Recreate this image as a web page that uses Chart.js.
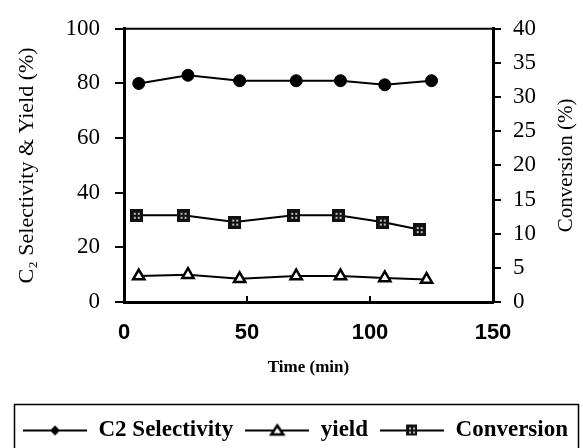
<!DOCTYPE html>
<html lang="en">
<head>
  <meta charset="UTF-8">
  <title>C2 Selectivity, Yield and Conversion vs Time</title>
  <script src="https://cdn.jsdelivr.net/npm/chart.js"></script>
  <style>
    html, body { margin: 0; padding: 0; background: #fff; }
    #wrap { width: 583px; height: 448px; }
  </style>
</head>
<body>
  <div id="wrap"><canvas id="chart" width="583" height="448"></canvas></div>

  <script>
    // values
    const selTime = [6, 26, 47, 70, 88, 106, 125];
    const selectivity = [80, 83, 81, 81, 81, 79.5, 81];
    const yieldTime = [6, 26, 47, 70, 88, 106, 123];
    const yieldPct = [9.5, 10, 8.5, 9.5, 9.5, 8.8, 8.2];
    const convTime = [5, 24, 45, 69, 87, 105, 120];
    const conversion = [12.7, 12.7, 11.7, 12.7, 12.7, 11.7, 10.6];
    const seriesNames = ['C2 Selectivity', 'yield', 'Conversion'];
    const rightTitle = 'Conversion (%)';

    const serif = "'Liberation Serif', 'Times New Roman', serif";
    const sans = "'Liberation Sans', Arial, sans-serif";

    // speckled square used for the conversion markers
    function squareMark(size) {
      const c = document.createElement('canvas');
      c.width = size; c.height = size;
      const g = c.getContext('2d');
      g.fillStyle = '#111';
      g.fillRect(0, 0, size, size);
      g.fillStyle = '#bbb';
      const m = Math.round(size / 2);
      g.fillRect(m - 3, m - 3, 2, 2);
      g.fillRect(m + 1, m - 3, 2, 2);
      g.fillRect(m - 3, m + 1, 2, 2);
      g.fillRect(m + 1, m + 1, 2, 2);
      return c;
    }

    // legend symbol: line with marker in the middle
    function legendMark(kind) {
      const c = document.createElement('canvas');
      c.width = 64; c.height = 16;
      const g = c.getContext('2d');
      g.strokeStyle = '#000';
      g.lineWidth = 2;
      g.beginPath(); g.moveTo(0, 8); g.lineTo(64, 8); g.stroke();
      if (kind === 'circle') {
        g.fillStyle = '#000';
        g.beginPath(); g.moveTo(32, 3); g.lineTo(37, 8); g.lineTo(32, 13); g.lineTo(27, 8); g.closePath(); g.fill();
      } else if (kind === 'triangle') {
        g.fillStyle = '#fff';
        g.lineWidth = 2.5;
        g.beginPath(); g.moveTo(32, 3); g.lineTo(38, 12); g.lineTo(26, 12); g.closePath(); g.fill(); g.stroke();
      } else {
        g.drawImage(squareMark(11), 26, 2);
      }
      return c;
    }
    const legendMarks = [legendMark('circle'), legendMark('triangle'), legendMark('square')];

    const toPoints = (xs, ys) => xs.map((x, i) => ({ x: x, y: ys[i] }));

    const framePlugin = {
      id: 'frame',
      afterDraw(chart) {
        const { ctx, chartArea, legend } = chart;
        ctx.save();
        ctx.strokeStyle = '#000';
        ctx.lineWidth = 2;
        ctx.beginPath();
        ctx.moveTo(chartArea.left, chartArea.top);
        ctx.lineTo(chartArea.right, chartArea.top);
        ctx.stroke();
        // box round the legend
        ctx.lineWidth = 1.5;
        ctx.strokeRect(14.5, legend.top - 2.5, 564, 60);
        // right axis title reads bottom to top in the original
        ctx.fillStyle = '#000';
        ctx.font = '21px ' + serif;
        ctx.textAlign = 'center';
        ctx.textBaseline = 'middle';
        ctx.translate(566, (chartArea.top + chartArea.bottom) / 2);
        ctx.rotate(-Math.PI / 2);
        ctx.fillText(rightTitle, 0, 0);
        ctx.restore();
      }
    };

    new Chart('chart', {
      type: 'line',
      data: {
        datasets: [
          {
            label: seriesNames[0], data: toPoints(selTime, selectivity), yAxisID: 'y',
            borderColor: '#000', borderWidth: 2, pointStyle: 'circle', pointRadius: 6,
            pointBackgroundColor: '#000', pointBorderColor: '#000', pointBorderWidth: 1
          },
          {
            label: seriesNames[1], data: toPoints(yieldTime, yieldPct), yAxisID: 'y',
            borderColor: '#000', borderWidth: 2, pointStyle: 'triangle', pointRadius: 6.5,
            pointBackgroundColor: '#fff', pointBorderColor: '#000', pointBorderWidth: 2.5
          },
          {
            label: seriesNames[2], data: toPoints(convTime, conversion), yAxisID: 'y2',
            borderColor: '#000', borderWidth: 2, pointStyle: squareMark(13), pointRadius: 6.5
          }
        ]
      },
      options: {
        responsive: false,
        animation: false,
        layout: { padding: { top: 25, left: 8, right: 0, bottom: -4 } },
        scales: {
          x: {
            type: 'linear', min: 0, max: 150,
            ticks: { stepSize: 50, color: '#000', padding: 24, font: { family: sans, size: 22, weight: 'bold' } },
            grid: { drawOnChartArea: false, drawTicks: true, tickLength: -6, color: '#000', lineWidth: 2 },
            border: { display: true, color: '#000', width: 3 },
            title: { display: true, text: 'Time (min)', color: '#000', padding: { top: 0, bottom: 29 }, font: { family: serif, size: 17, weight: 'bold' } },
            afterFit: s => { s.height = 105; }
          },
          y: {
            position: 'left', min: 0, max: 100,
            ticks: { stepSize: 20, color: '#000', padding: 15, autoSkip: false, font: { family: serif, size: 23 } },
            grid: { drawOnChartArea: false, drawTicks: true, tickLength: 9, color: '#000', lineWidth: 2 },
            border: { display: true, color: '#000', width: 3 },
            title: { display: true, text: 'C\u2082 Selectivity & Yield (%)', color: '#000', padding: { top: 8, bottom: 0 }, font: { family: serif, size: 22, lineHeight: 1 } },
            afterFit: s => { s.width = 116; }
          },
          y2: {
            position: 'right', min: 0, max: 40,
            ticks: { stepSize: 5, color: '#000', padding: 12, autoSkip: false, font: { family: serif, size: 23 } },
            grid: { drawOnChartArea: false, drawTicks: true, tickLength: 8, color: '#000', lineWidth: 2 },
            border: { display: true, color: '#000', width: 3 },
            title: { display: false },
            afterFit: s => { s.width = 90; }
          }
        },
        plugins: {
          tooltip: { enabled: false },
          legend: {
            position: 'bottom',
            labels: {
              usePointStyle: true,
              pointStyleWidth: 64,
              padding: 12,
              color: '#000',
              font: { family: serif, size: 23, weight: 'bold' },
              generateLabels(chart) {
                const items = Chart.defaults.plugins.legend.labels.generateLabels(chart);
                items.forEach((it, i) => { it.pointStyle = legendMarks[i]; });
                return items;
              }
            }
          }
        }
      },
      plugins: [framePlugin]
    });
  </script>
</body>
</html>
